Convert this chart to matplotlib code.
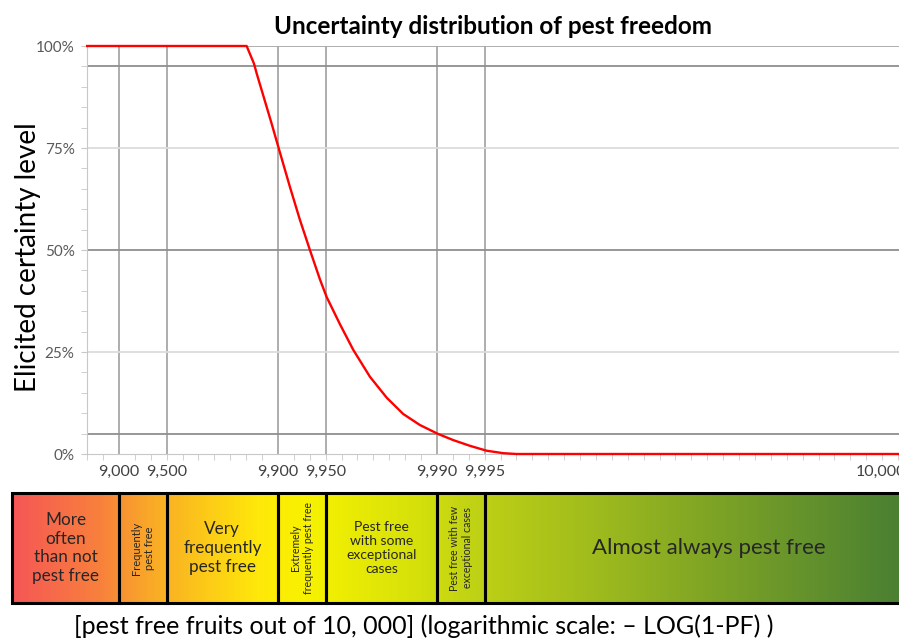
#!/usr/bin/env python3
# -*- coding: utf-8 -*-

import matplotlib
matplotlib.use("Agg")
import matplotlib.pyplot as plt
import numpy as np
from matplotlib.colors import LinearSegmentedColormap

plt.rcParams["font.family"] = ["Lato", "DejaVu Sans"]

# x axis is -log10(1 - PF), PF = pest free fraction
curve_x = [0.80, 1.803, 1.849, 1.866, 1.918, 1.960, 2.002, 2.075, 2.138, 2.201, 2.264,
           2.306, 2.39, 2.474, 2.579, 2.684, 2.788, 2.893, 3.008, 3.103, 3.208, 3.313,
           3.417, 3.50, 5.91]
curve_y = [1.00, 1.00, 0.957, 0.933, 0.865, 0.81, 0.753, 0.655, 0.574, 0.50, 0.428,
           0.385, 0.318, 0.255, 0.189, 0.138, 0.098, 0.071, 0.049, 0.034, 0.020, 0.008,
           0.002, 0.0, 0.0]

tick_counts = [9000, 9500, 9900, 9950, 9990, 9995]
tick_labels = ["9,000", "9,500", "9,900", "9,950", "9,990", "9,995"]
end_label = "10,000"
end_pos = 5.79

band_labels = [
    "More\noften\nthan not\npest free",
    "Frequently\npest free",
    "Very\nfrequently\npest free",
    "Extremely\nfrequently pest free",
    "Pest free\nwith some\nexceptional\ncases",
    "Pest free with few\nexceptional cases",
    "Almost always pest free",
]
band_rotation = [0, 90, 0, 90, 0, 90, 0]
band_fontsize = [12.3, 8, 12.3, 7.6, 10, 7.6, 16]

y_major = [0, 0.25, 0.5, 0.75, 1.0]
y_major_labels = ["0%", "25%", "50%", "75%", "100%"]


def to_log(count):
    return -np.log10(1 - np.asarray(count, dtype=float) / 10000.0)


W, H = 899, 642
fig = plt.figure(figsize=(W / 100, H / 100), dpi=100)

x_lo_main, x_hi = 0.799, 5.906
ax = fig.add_axes([87 / W, 1 - 454 / H, (W - 87) / W, (454 - 46) / H])
ax.set_xlim(x_lo_main, x_hi)
ax.set_ylim(0, 1)

grid_x = to_log(tick_counts)
for gx in grid_x:
    ax.axvline(gx, color="#a0a0a0", lw=1.2, zorder=1)
for gy, col in [(0.05, "#8f8f8f"), (0.5, "#8f8f8f"), (0.95, "#8f8f8f"),
                (0.25, "#dcdcdc"), (0.75, "#dcdcdc"), (1.0, "#a8a8a8")]:
    ax.axhline(gy, color=col, lw=1.3, zorder=1)

ax.plot(curve_x, curve_y, color="#ff0000", lw=1.7, zorder=3, clip_on=False)

for s in ["top", "right"]:
    ax.spines[s].set_visible(False)
ax.spines["left"].set_color("#c8c8c8")
ax.spines["bottom"].set_color("#c8c8c8")

ax.set_yticks(y_major)
ax.set_yticklabels(y_major_labels, fontsize=11, color="#595959")
ax.set_yticks(np.arange(0, 1.001, 0.05), minor=True)
ax.tick_params(axis="y", which="both", length=4, color="#c8c8c8", pad=5)

ax.set_xticks(list(grid_x) + [end_pos])
ax.set_xticklabels(tick_labels + [end_label], fontsize=11.5, color="#404040")
ax.set_xticks(np.arange(0.8, x_hi, 0.1), minor=True)
ax.tick_params(axis="x", which="major", length=0, pad=8)
ax.tick_params(axis="x", which="minor", length=4, color="#c8c8c8")

ax.set_title("Uncertainty distribution of pest freedom", fontsize=17.5,
             fontweight="bold", pad=9, x=(493 - 87) / (W - 87))
fig.text(28 / W, 1 - 257 / H, "Elicited certainty level", rotation=90,
         fontsize=20, ha="center", va="center")

# category band below the axis
x_lo_band = 0.321
bax = fig.add_axes([11 / W, 1 - 604 / H, (W - 11) / W, (604 - 492) / H])
bax.set_xlim(x_lo_band, x_hi)
bax.set_ylim(0, 1)
bax.axis("off")

stops = [(0.0, "#f55656"), (0.0986, "#f8803c"), (0.1538, "#f9a828"), (0.277, "#ffe80a"),
         (0.331, "#f8f200"), (0.455, "#d6e10a"), (0.510, "#c3d414"), (1.0, "#4b8032")]
cmap = LinearSegmentedColormap.from_list("band", stops)
grad = np.linspace(0, 1, 512).reshape(1, -1)
bax.imshow(grad, cmap=cmap, aspect="auto", extent=[x_lo_band, x_hi, 0, 1], zorder=0)

edges = [x_lo_band + 0.006] + list(grid_x) + [x_hi + 0.05]
for left, right in zip(edges[:-1], edges[1:]):
    bax.add_patch(plt.Rectangle((left, 0.01), right - left, 0.98, fill=False,
                                edgecolor="black", lw=2.2, zorder=2, clip_on=False))
for i, lab in enumerate(band_labels):
    cx = (edges[i] + edges[i + 1]) / 2
    if i == len(band_labels) - 1:
        cx = 4.71
    bax.text(cx, 0.5, lab, ha="center", va="center", fontsize=band_fontsize[i],
             rotation=band_rotation[i], color="#262626", linespacing=1.2, zorder=3)

fig.text(424 / W, 1 - 626 / H,
         "[pest free fruits out of 10, 000] (logarithmic scale: \u2013 LOG(1-PF) )",
         fontsize=18, ha="center", va="center")

fig.savefig("out.png", dpi=100)
